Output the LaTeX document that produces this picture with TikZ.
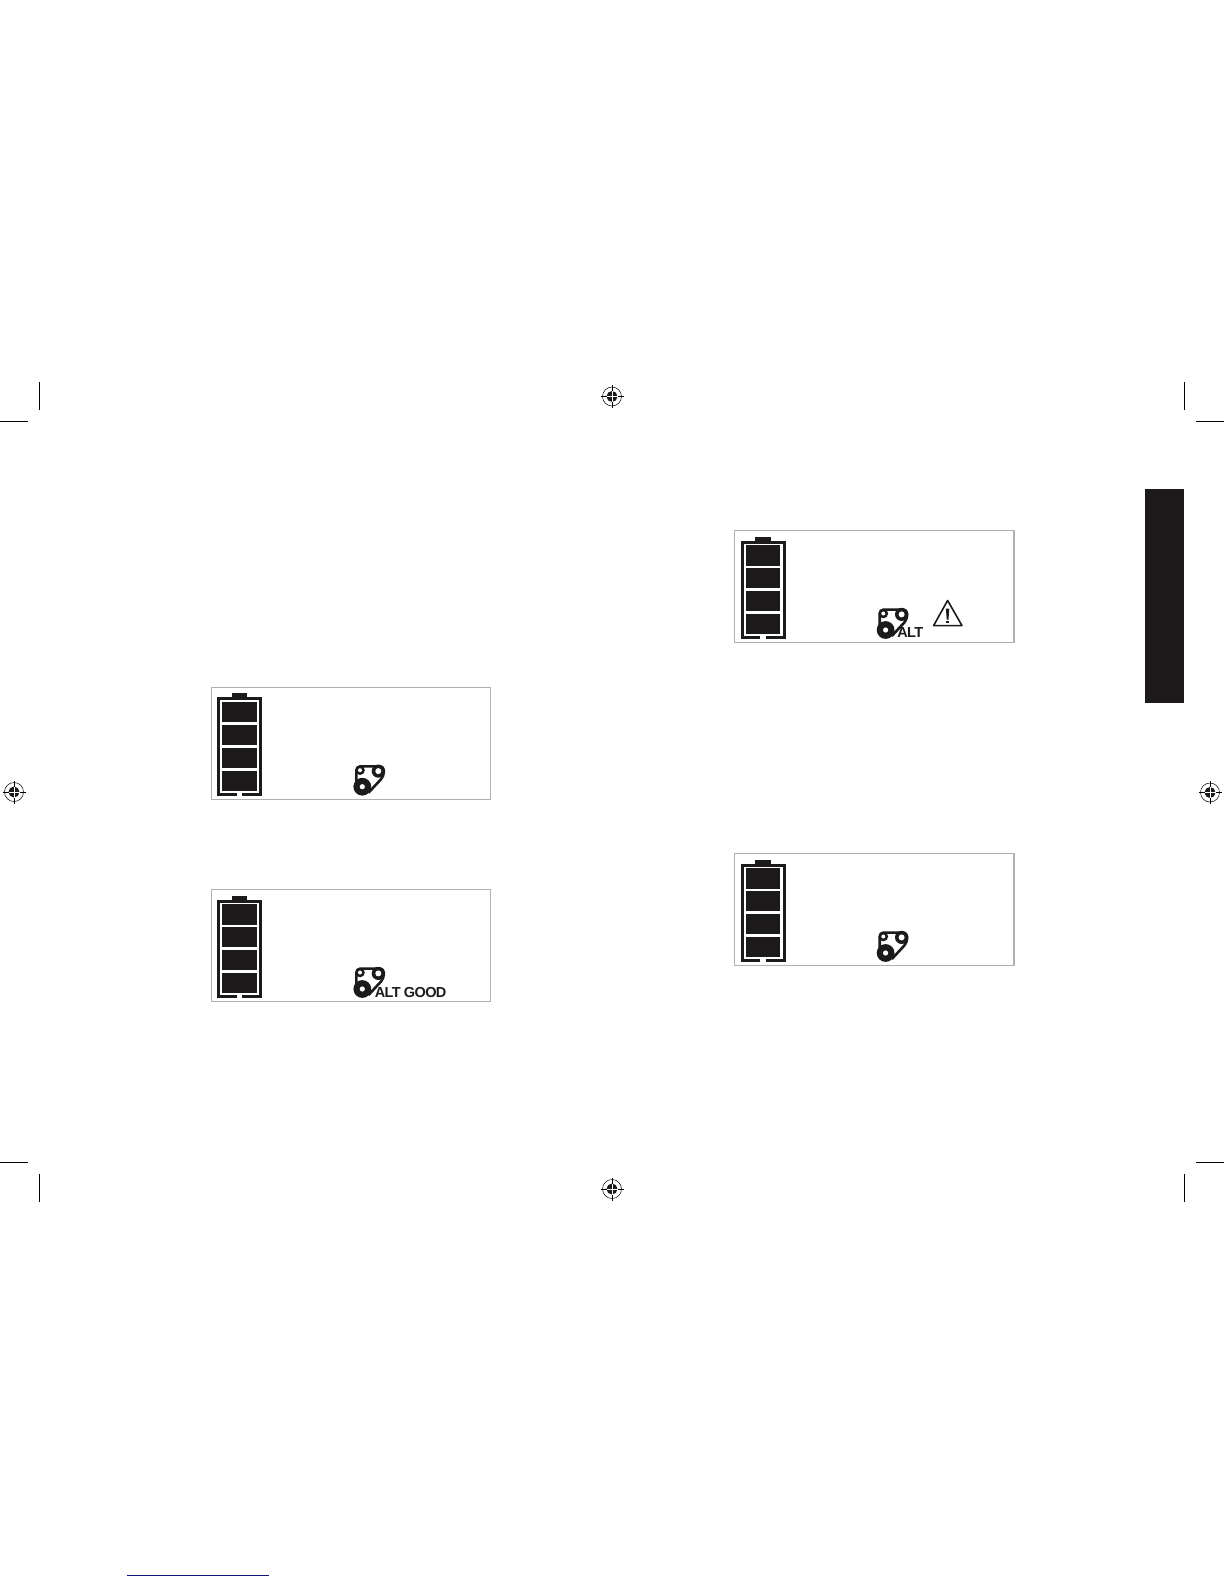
\documentclass[tikz,border=0pt]{standalone}
\usepackage{fontspec}
\setmainfont{Liberation Sans}
\newfontfamily\altfont[LetterSpace=-4.5]{Liberation Sans}
\definecolor{ink}{HTML}{1C1A1B}
\definecolor{frame}{HTML}{B0B0B0}
\definecolor{navyline}{HTML}{14147F}
\tikzset{
  cropline/.style={draw=black,line width=1.1pt},
  panelframe/.style={draw=frame,line width=1.1pt,fill=white},
  batcell/.style={fill=ink,draw=none},
  batwall/.style={draw=ink,line width=3pt,miter limit=10},
  belt/.style={draw=ink,line width=2.6pt,line join=round,rounded corners=4pt},
  alttext/.style={inner sep=0pt,anchor=base west,text=ink,font=\fontsize{14.5pt}{14.5pt}\altfont\bfseries},
  regmark/.pic={
    \draw[black,line width=0.5pt] (0,0) circle[radius=9.5pt];
    \fill[ink] (0,0) circle[radius=5.5pt];
    \draw[black,line width=0.7pt] (-11.5pt,0) -- (-5.5pt,0) (5.5pt,0) -- (11.5pt,0)
      (0,-11.5pt) -- (0,-5.5pt) (0,5.5pt) -- (0,11.5pt);
    \draw[white,line width=0.7pt] (-5.5pt,0) -- (5.5pt,0) (0,-5.5pt) -- (0,5.5pt);
  },
  displaypanel/.pic={
    \draw[panelframe] (0.4,0.4) rectangle (279.7,112.5);
    \fill[ink] (20.7,6.6) rectangle (36.3,11);
    \draw[batwall] (25.7,107.6) -- (7.8,107.6) -- (7.8,12.1) -- (49.8,12.1) -- (49.8,107.6) -- (31.3,107.6);
    \fill[batcell] (11.3,15.3) rectangle (45.7,35.6);
    \fill[batcell] (11.3,38.3) rectangle (45.7,58.3);
    \fill[batcell] (11.3,61.3) rectangle (45.7,81.3);
    \fill[batcell] (11.3,84) rectangle (45.7,104);
    % belt icon
    \draw[belt] (145.4,100) -- (145.4,79.6) -- (172.8,79.6) -- (172.8,89.5) -- (157.5,106);
    \fill[ink] (151.3,100) circle[radius=8.9];
    \fill[white] (151.3,100) circle[radius=2.6];
    \fill[ink] (149,83.5) circle[radius=4.8];
    \fill[white] (149,83.5) circle[radius=2];
    \fill[ink] (167.3,84.4) circle[radius=6.6];
    \fill[white] (167.3,84.4) circle[radius=3];
  }
}
\begin{document}
\begin{tikzpicture}[x=1pt,y=-1pt]
\useasboundingbox (0,0) rectangle (1224,1584);
\fill[white] (0,0) rectangle (1224,1584);

% crop marks
\draw[cropline] (39.3,382) -- (39.3,410);
\draw[cropline] (0,421.7) -- (28,421.7);
\draw[cropline] (1184.3,382) -- (1184.3,410);
\draw[cropline] (1196,421.7) -- (1224,421.7);
\draw[cropline] (39.3,1174) -- (39.3,1202);
\draw[cropline] (0,1162.3) -- (28,1162.3);
\draw[cropline] (1184.3,1174) -- (1184.3,1202);
\draw[cropline] (1196,1162.3) -- (1224,1162.3);

% registration marks
\pic at (612,396.5) {regmark};
\pic at (14,792) {regmark};
\pic at (1210,792.5) {regmark};
\pic at (612,1189) {regmark};

% black tab
\fill[ink] (1145,489) rectangle (1184.3,703);

% panels
\pic at (211,686.7) {displaypanel};
\pic at (211,889) {displaypanel};
\pic at (734.3,530) {displaypanel};
\pic at (734.3,853) {displaypanel};

% labels
\coordinate (altgoodpos) at (374.6,997.3);
\node[alttext] (altgood) at (altgoodpos) {ALT GOOD};
\coordinate (altpos) at (897.2,637.7);
\node[alttext] (alt) at (altpos) {ALT};

% warning triangle
\draw[ink,line width=1.6pt,line join=round] (947.6,600.5) -- (962,625.6) -- (933.6,625.6) -- cycle;
\fill[ink] (945.9,608.6) -- (949.3,608.6) -- (948.5,619.6) -- (946.7,619.6) -- cycle;
\fill[ink] (946.3,620.8) rectangle (948.9,623.2);

% navy rule
\draw[navyline,line width=1pt] (126.7,1575.3) -- (269,1575.3);
\end{tikzpicture}
\end{document}
